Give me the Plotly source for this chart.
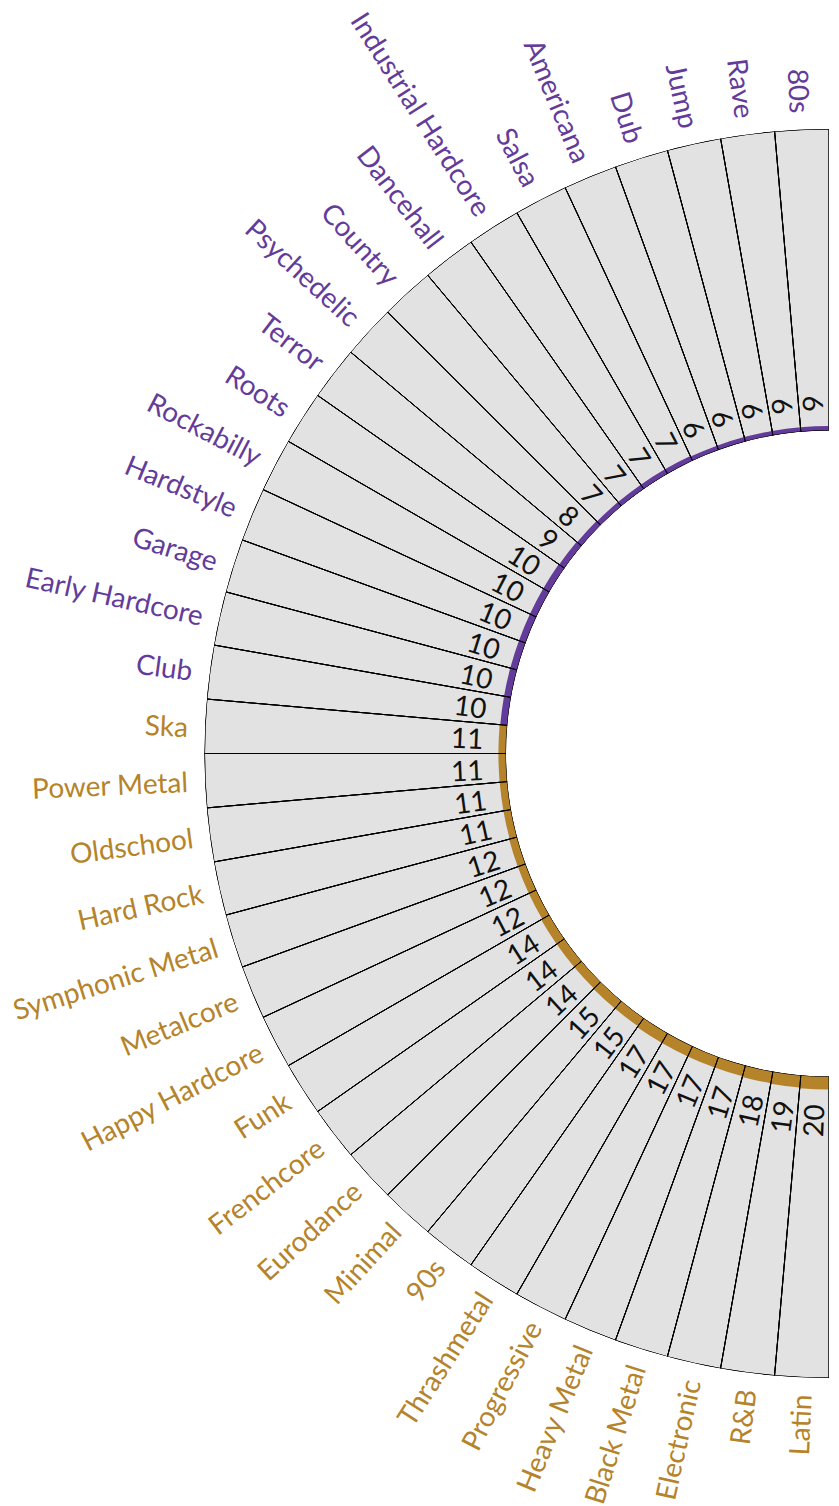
import math
import plotly.graph_objects as go

# ---------------- data ----------------
genres = [
    "80s", "Rave", "Jump", "Dub", "Americana", "Salsa", "Industrial Hardcore",
    "Dancehall", "Country", "Psychedelic", "Terror", "Roots", "Rockabilly",
    "Hardstyle", "Garage", "Early Hardcore", "Club",
    "Ska", "Power Metal", "Oldschool", "Hard Rock", "Symphonic Metal",
    "Metalcore", "Happy Hardcore", "Funk", "Frenchcore", "Eurodance",
    "Minimal", "90s", "Thrashmetal", "Progressive", "Heavy Metal",
    "Black Metal", "Electronic", "R&B", "Latin",
]
values = [
    6, 6, 6, 6, 6, 7, 7,
    7, 7, 8, 9, 10, 10,
    10, 10, 10, 10,
    11, 11, 11, 11, 12,
    12, 12, 14, 14, 14,
    15, 15, 17, 17, 17,
    17, 18, 19, 20,
]
split_value = 10  # values up to this are purple, above are gold

# ---------------- style ----------------
W, H = 839, 1506
PURPLE = "#633c9b"
GOLD = "#b5832a"
GRAY = "#e2e2e2"
FONT = "Lato"

PAGE_OFFSET = 8             # default body margin of the html page
CX, CY = 829.0 - PAGE_OFFSET, 753.5 - PAGE_OFFSET   # polar centre (figure px)
R_OUT, R_IN = 624.5, 323.0  # outer radius / hole radius (px)
BAND = R_OUT - R_IN         # radial extent in px units
BASE = -1.0                 # radial axis starts 1px below zero-value
BAR_SCALE = 0.6             # px of coloured bar per unit of value
LABEL_GAP = 17
VALUE_GAP = 15

n = len(genres)
step = 180.0 / n
theta = [90 + step * (i + 0.5) for i in range(n)]
colors = [PURPLE if v <= split_value else GOLD for v in values]
bar_r = [v * BAR_SCALE for v in values]

fig = go.Figure()
# grey wedges
fig.add_trace(go.Barpolar(
    r=[BAND + BASE - BASE] * n, base=[BASE] * n, theta=theta, width=[step] * n,
    marker=dict(color=GRAY, line=dict(color="black", width=1)),
    hoverinfo="skip", showlegend=False,
))
# coloured value bars along the inner edge
fig.add_trace(go.Barpolar(
    r=[b - BASE for b in bar_r], base=[BASE] * n, theta=theta, width=[step] * n,
    marker=dict(color=colors, line=dict(width=0)),
    customdata=values, text=genres,
    hovertemplate="%{text}: %{customdata}<extra></extra>",
    showlegend=False,
))
# outlines on top
fig.add_trace(go.Barpolar(
    r=[BAND] * n, base=[BASE] * n, theta=theta, width=[step] * n,
    marker=dict(color="rgba(0,0,0,0)", line=dict(color="black", width=1)),
    hoverinfo="skip", showlegend=False,
))


def to_paper(r, th):
    a = math.radians(th)
    x = CX + r * math.cos(a)
    y = CY - r * math.sin(a)
    return x / W, 1 - y / H


def end_anchored(label, color):
    # visible label followed by an invisible copy -> box centre = end of label
    return (f'<span style="color:{color}">{label}</span>'
            f'<span style="color:rgba(0,0,0,0)">{label}</span>')


annotations = []
for g, v, th, c, br in zip(genres, values, theta, colors, bar_r):
    ang = 180 - th
    x, y = to_paper(R_OUT + LABEL_GAP, th)
    annotations.append(dict(
        x=x, y=y, xref="paper", yref="paper", showarrow=False,
        xanchor="center", yanchor="middle", textangle=ang,
        text=end_anchored(g, c), font=dict(family=FONT, size=28, color=c),
    ))
    x, y = to_paper(R_IN + (br - BASE) + VALUE_GAP, th)
    annotations.append(dict(
        x=x, y=y, xref="paper", yref="paper", showarrow=False,
        xanchor="center", yanchor="middle", textangle=ang,
        text=end_anchored(str(v), "#111111"),
        font=dict(family=FONT, size=28, color="#111111"),
    ))

fig.update_layout(
    width=W, height=H,
    margin=dict(l=0, r=0, t=0, b=0),
    paper_bgcolor="white",
    plot_bgcolor="white",
    showlegend=False,
    polar=dict(
        domain=dict(x=[(CX - R_OUT) / W, CX / W],
                    y=[1 - (CY + R_OUT) / H, 1 - (CY - R_OUT) / H]),
        sector=[90, 270],
        hole=R_IN / R_OUT,
        bgcolor="rgba(0,0,0,0)",
        bargap=0,
        barmode="overlay",
        radialaxis=dict(range=[BASE, BASE + BAND], visible=False, showgrid=False),
        angularaxis=dict(showline=False, showgrid=False, showticklabels=False,
                         ticks="", direction="counterclockwise", rotation=0),
    ),
    annotations=annotations,
)

fig.write_html("out.html")
